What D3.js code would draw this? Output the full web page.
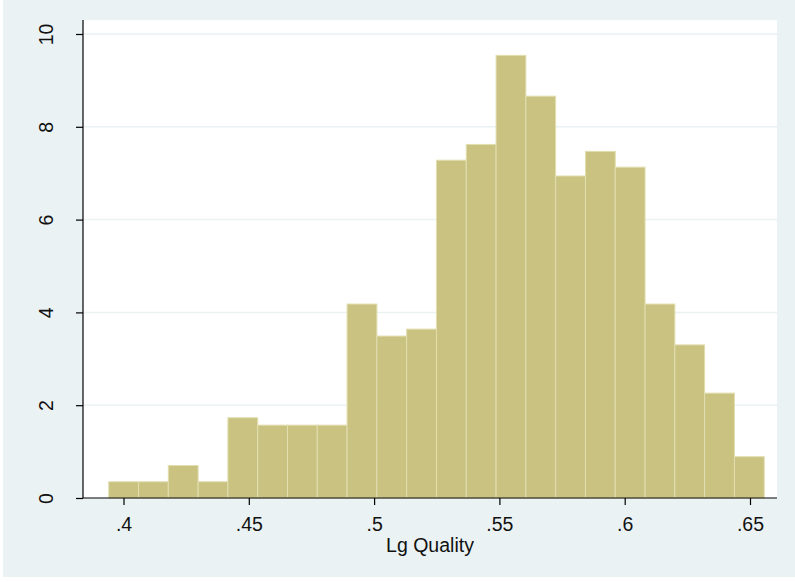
<!DOCTYPE html>
<html>
<head>
<meta charset="utf-8">
<script src="https://cdn.jsdelivr.net/npm/d3@7"></script>
<style>
  body { margin: 0; background: #fff; }
  svg { display: block; font-family: "Liberation Sans", Arial, sans-serif; }
</style>
</head>
<body>
<div id="chart"></div>
<script>
// histogram bins (density)
const binStart = 0.3941;
const binWidth = 0.01189;
const densities = [0.35, 0.35, 0.70, 0.35, 1.73, 1.57, 1.57, 1.57, 4.18, 3.49, 3.64,
                   7.28, 7.62, 9.54, 8.66, 6.94, 7.47, 7.13, 4.18, 3.30, 2.26, 0.89];
const xTicks = [0.4, 0.45, 0.5, 0.55, 0.6, 0.65];
const xTickLabels = [".4", ".45", ".5", ".55", ".6", ".65"];
const yTicks = [0, 2, 4, 6, 8, 10];

const W = 795, H = 582;
const fs = 19.5;
const svg = d3.select("#chart").append("svg").attr("width", W).attr("height", H);

// outer background
svg.append("rect").attr("x", 3).attr("y", 0).attr("width", W - 3).attr("height", 577)
  .attr("fill", "#eaf2f3");

const plot = {left: 83, right: 777, top: 20, bottom: 498};
svg.append("rect")
  .attr("x", plot.left).attr("y", plot.top)
  .attr("width", plot.right - plot.left).attr("height", plot.bottom - plot.top)
  .attr("fill", "#fff");

var x = d3.scaleLinear().domain([0.4, 0.65]).range([123.5, 750]);
var y = d3.scaleLinear().domain([0, 10]).range([498, 34]);

// gridlines
svg.append("g").selectAll("line").data(yTicks.filter(d => d > 0)).enter().append("line")
  .attr("x1", plot.left).attr("x2", plot.right)
  .attr("y1", d => y(d)).attr("y2", d => y(d))
  .attr("stroke", "#eaf2f3").attr("stroke-width", 1.5);

// bars
const bins = densities.map((d, i) => ({x0: binStart + i * binWidth, x1: binStart + (i + 1) * binWidth, v: d}));
svg.append("g").selectAll("rect").data(bins).enter().append("rect")
  .attr("x", d => x(d.x0))
  .attr("width", d => x(d.x1) - x(d.x0))
  .attr("y", d => y(d.v))
  .attr("height", d => y(0) - y(d.v))
  .attr("fill", "#c9c280")
  .attr("stroke", "#e2deb0")
  .attr("stroke-width", 1);

// x axis
var xAxis = svg.append("g")
  .attr("transform", `translate(0,${plot.bottom})`)
  .call(d3.axisBottom(x).tickValues(xTicks).tickSize(7).tickFormat((d, i) => xTickLabels[i]));
xAxis.select(".domain").attr("d", `M${plot.left},0H${plot.right}`).attr("stroke", "#000").attr("stroke-width", 1.2);
xAxis.selectAll(".tick line").attr("stroke", "#000").attr("stroke-width", 1.2);
xAxis.selectAll(".tick text").attr("font-size", fs).attr("fill", "#111").attr("y", 19)
  .attr("font-family", "Liberation Sans, Arial, sans-serif");

svg.append("text")
  .attr("x", (plot.left + plot.right) / 2).attr("y", 552)
  .attr("text-anchor", "middle").attr("font-size", fs).attr("fill", "#111")
  .text("Lg Quality");

// y axis
var yAxis = svg.append("g")
  .attr("transform", `translate(${plot.left},0)`)
  .call(d3.axisLeft(y).tickValues(yTicks).tickSize(7).tickFormat(d3.format("d")));
yAxis.select(".domain").attr("d", `M0,${plot.top}V${plot.bottom}`).attr("stroke", "#000").attr("stroke-width", 1.2);
yAxis.selectAll(".tick line").attr("stroke", "#000").attr("stroke-width", 1.2);
yAxis.selectAll(".tick text")
  .attr("font-size", fs).attr("fill", "#111")
  .attr("font-family", "Liberation Sans, Arial, sans-serif")
  .attr("x", null).attr("dy", null)
  .attr("text-anchor", "middle")
  .attr("transform", "translate(-37,0) rotate(-90)")
  .attr("y", 0).attr("dominant-baseline", "central");
</script>
</body>
</html>
